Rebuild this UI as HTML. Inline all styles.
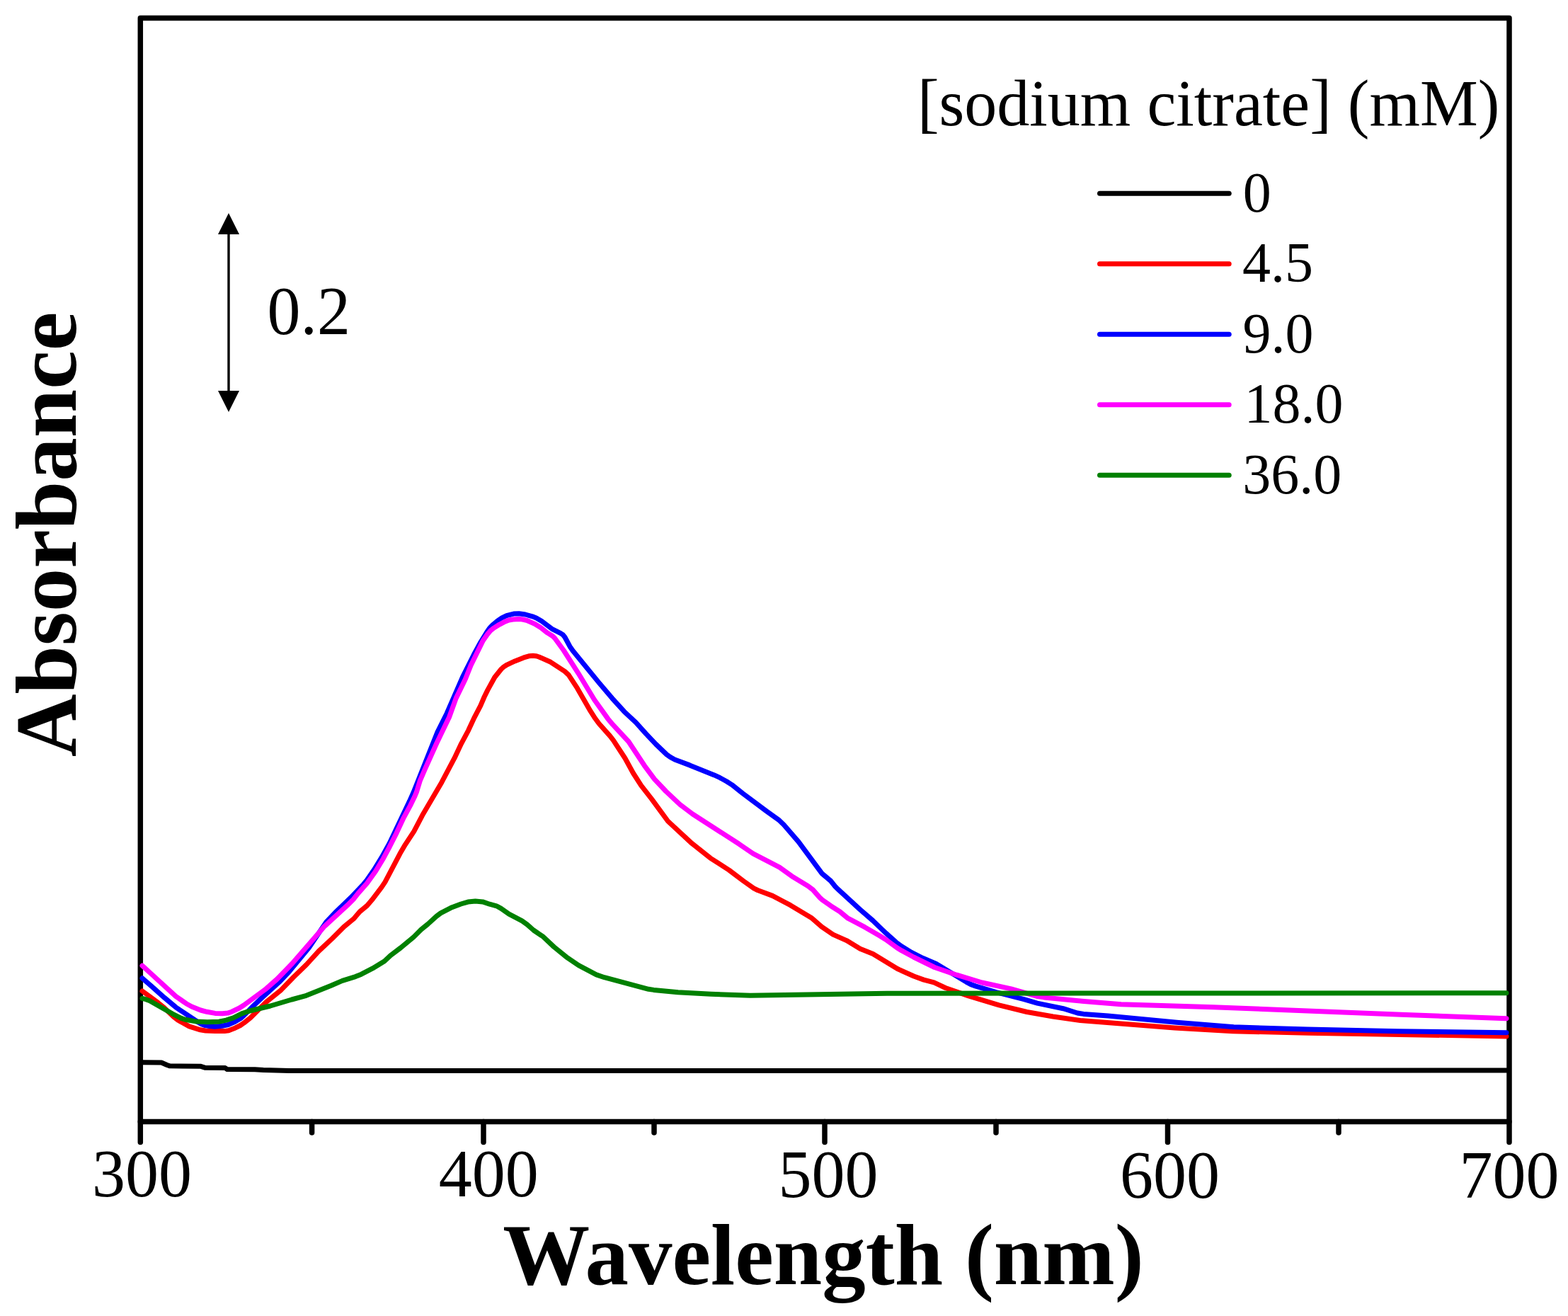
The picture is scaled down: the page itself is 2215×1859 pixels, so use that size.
<!DOCTYPE html>
<html><head><meta charset="utf-8"><title>Absorbance vs Wavelength</title>
<style>
html,body{margin:0;padding:0;background:#fff;}
body{width:2215px;height:1859px;overflow:hidden;}
svg{display:block;}
text{font-family:"Liberation Serif","Times New Roman",serif;fill:#000;}
.tk{font-size:94px;}
.lg{font-size:80px;}
.ttl{font-size:92px;}
.ax{font-size:123px;font-weight:bold;}
</style></head>
<body>
<svg width="2215" height="1859" viewBox="0 0 2215 1859">
<rect width="2215" height="1859" fill="#fff"/>
<rect x="198.3" y="25.5" width="1933.7" height="1558.9" fill="none" stroke="#000" stroke-width="7.5" stroke-linejoin="round"/>
<line x1="198.3" y1="1584.4" x2="198.3" y2="1613.5" stroke="#000" stroke-width="7.5" stroke-linecap="round"/>
<line x1="683" y1="1584.4" x2="683" y2="1613.5" stroke="#000" stroke-width="7.5" stroke-linecap="round"/>
<line x1="1165" y1="1584.4" x2="1165" y2="1613.5" stroke="#000" stroke-width="7.5" stroke-linecap="round"/>
<line x1="1649.5" y1="1584.4" x2="1649.5" y2="1613.5" stroke="#000" stroke-width="7.5" stroke-linecap="round"/>
<line x1="2132" y1="1584.4" x2="2132" y2="1613.5" stroke="#000" stroke-width="7.5" stroke-linecap="round"/>
<line x1="440.6" y1="1584.4" x2="440.6" y2="1600" stroke="#000" stroke-width="7.5" stroke-linecap="round"/>
<line x1="924" y1="1584.4" x2="924" y2="1600" stroke="#000" stroke-width="7.5" stroke-linecap="round"/>
<line x1="1407" y1="1584.4" x2="1407" y2="1600" stroke="#000" stroke-width="7.5" stroke-linecap="round"/>
<line x1="1891" y1="1584.4" x2="1891" y2="1600" stroke="#000" stroke-width="7.5" stroke-linecap="round"/>

<polyline points="201.0,1500.8 228.0,1501.0 236.0,1504.5 240.0,1505.8 283.0,1506.2 290.0,1508.3 318.0,1508.5 321.0,1510.6 360.0,1510.8 372.0,1511.6 408.0,1512.6 1580.0,1512.5 2128.0,1512.0" fill="none" stroke="#000" stroke-width="7" stroke-linejoin="round" stroke-linecap="round"/>
<polyline points="201.0,1400.0 212.7,1408.5 223.5,1416.6 231.6,1423.2 245.7,1436.7 251.6,1441.3 267.3,1449.9 283.0,1454.8 290.4,1456.0 303.8,1456.6 317.3,1456.6 323.1,1455.8 330.1,1453.1 339.5,1448.5 344.4,1445.2 353.8,1437.7 376.0,1415.5 395.9,1399.6 414.7,1380.2 433.0,1362.5 450.2,1343.6 468.8,1326.2 485.8,1309.3 499.6,1297.9 508.3,1287.7 518.6,1279.2 525.4,1271.3 539.0,1253.4 544.0,1245.9 564.9,1206.1 572.5,1193.1 584.8,1174.3 596.6,1151.8 623.9,1105.2 642.1,1070.7 651.7,1050.3 661.6,1031.8 669.8,1014.1 678.8,996.9 684.1,984.5 688.7,975.1 698.8,956.7 708.2,945.0 711.4,942.1 715.1,939.7 727.3,933.9 739.9,928.9 747.0,926.8 752.9,926.2 757.2,926.7 761.5,928.0 777.9,935.3 797.8,948.4 803.2,953.4 815.5,972.2 834.2,1004.7 840.7,1014.8 846.0,1022.0 861.9,1039.9 866.5,1045.8 882.9,1071.0 894.4,1092.0 905.7,1109.7 920.5,1128.6 943.5,1160.0 977.6,1191.6 1003.4,1212.1 1029.9,1229.1 1050.2,1244.5 1064.9,1254.9 1070.2,1257.5 1091.3,1265.4 1116.5,1278.7 1146.1,1296.4 1160.7,1309.2 1176.8,1320.1 1195.9,1328.6 1215.1,1340.2 1233.2,1347.4 1267.7,1368.5 1290.9,1379.0 1305.0,1384.1 1319.4,1387.9 1335.6,1395.5 1368.2,1406.9 1411.2,1419.9 1450.6,1429.5 1487.5,1436.0 1526.1,1441.5 1659.2,1451.9 1741.6,1456.8 1848.0,1459.2 2128.0,1464.0" fill="none" stroke="#ff0000" stroke-width="7" stroke-linejoin="round" stroke-linecap="round"/>
<polyline points="201.0,1381.8 214.3,1393.3 232.2,1409.3 248.3,1422.8 280.7,1444.5 284.5,1446.7 288.6,1448.2 295.9,1449.6 303.3,1450.3 313.7,1449.3 322.4,1447.5 332.0,1443.2 339.7,1438.8 344.2,1434.9 357.8,1421.0 369.8,1409.6 394.3,1387.5 408.7,1372.3 436.4,1338.7 460.7,1302.7 475.2,1287.5 495.7,1267.8 513.3,1249.3 518.1,1243.6 528.3,1228.8 539.3,1210.9 550.2,1191.2 578.6,1131.6 584.1,1119.3 617.9,1034.3 631.3,1007.5 653.4,956.6 669.5,924.5 678.9,907.3 687.5,893.3 691.7,887.1 695.8,882.9 702.7,877.1 708.9,872.9 715.6,869.7 725.7,867.1 733.1,866.7 742.0,868.0 752.1,870.8 757.6,872.9 765.3,877.5 779.6,888.3 791.6,894.3 795.2,896.7 797.9,900.0 805.0,913.2 809.2,919.3 846.3,964.6 864.7,986.3 881.8,1005.2 898.2,1020.5 912.2,1036.2 926.6,1051.4 941.8,1065.9 946.7,1069.4 953.2,1073.0 974.2,1080.9 1009.0,1094.9 1017.1,1098.7 1026.3,1103.8 1033.9,1108.6 1049.2,1120.7 1082.8,1145.9 1099.9,1158.1 1107.4,1165.3 1128.0,1189.1 1160.9,1233.7 1173.4,1244.2 1179.8,1252.2 1182.9,1255.4 1215.0,1284.8 1233.1,1300.5 1251.5,1318.2 1266.0,1331.2 1273.2,1336.5 1287.2,1345.2 1303.3,1353.3 1322.5,1361.5 1364.9,1387.1 1371.5,1390.6 1378.5,1393.1 1407.3,1401.7 1446.5,1411.7 1465.2,1417.1 1501.9,1424.7 1521.9,1431.0 1530.7,1432.4 1565.1,1435.1 1662.2,1444.2 1742.9,1450.8 1846.4,1454.0 1973.9,1456.7 2128.0,1458.7" fill="none" stroke="#0000ff" stroke-width="7" stroke-linejoin="round" stroke-linecap="round"/>
<polyline points="201.0,1364.1 214.0,1376.0 248.3,1407.4 263.1,1417.7 270.9,1422.0 283.4,1427.0 292.1,1429.3 303.9,1431.4 314.3,1431.7 321.7,1431.1 327.3,1429.2 338.1,1424.0 344.4,1420.0 374.6,1397.8 391.5,1383.0 412.4,1361.5 458.6,1308.3 490.6,1278.9 499.1,1270.5 505.5,1262.4 518.4,1247.8 530.6,1230.7 541.5,1212.7 549.3,1198.2 560.1,1176.8 569.6,1156.4 579.6,1137.9 585.5,1125.8 588.4,1118.9 593.2,1103.2 600.3,1086.6 616.9,1049.7 634.5,1013.2 644.2,986.4 657.3,959.5 665.1,940.0 682.3,905.0 688.2,896.4 693.0,890.8 697.7,887.1 705.3,882.3 711.9,878.8 718.8,876.1 724.7,875.0 733.6,874.6 738.1,875.0 743.9,876.3 754.8,881.1 763.8,886.5 773.2,893.9 780.6,898.5 783.7,901.5 796.1,918.5 817.1,951.3 839.6,988.5 858.8,1015.4 865.5,1023.4 887.9,1047.5 910.2,1081.3 924.5,1100.6 940.9,1118.0 960.6,1136.5 978.5,1150.0 1044.1,1192.3 1063.9,1205.8 1101.1,1225.1 1120.6,1239.1 1141.2,1251.5 1148.3,1256.9 1158.2,1268.1 1161.5,1271.1 1173.7,1279.7 1186.4,1287.7 1197.8,1297.2 1221.6,1309.7 1242.4,1321.7 1251.3,1327.3 1267.0,1338.8 1273.4,1342.7 1290.6,1352.0 1320.2,1366.5 1351.4,1377.2 1387.3,1388.0 1428.3,1396.8 1465.8,1407.6 1474.6,1408.9 1528.4,1414.2 1583.7,1418.8 1714.1,1422.7 1979.4,1433.3 2128.0,1438.7" fill="none" stroke="#ff00ff" stroke-width="7" stroke-linejoin="round" stroke-linecap="round"/>
<polyline points="201.0,1410.4 206.0,1411.7 211.5,1413.7 244.0,1432.3 256.0,1438.4 261.6,1440.3 276.4,1442.9 292.8,1443.8 309.3,1443.2 319.5,1441.1 329.5,1437.9 341.4,1431.9 352.8,1428.0 381.9,1421.0 412.1,1412.0 430.9,1406.9 467.1,1392.5 483.6,1385.4 502.2,1379.6 510.5,1376.2 526.4,1367.9 543.1,1357.8 551.6,1349.7 566.0,1338.9 584.4,1323.6 595.0,1313.0 604.3,1305.5 616.5,1294.4 622.5,1289.9 638.5,1281.7 651.1,1277.0 661.1,1274.1 671.5,1273.0 681.9,1273.9 691.6,1277.2 701.4,1279.8 707.9,1283.4 718.9,1291.1 737.5,1300.9 744.8,1306.1 753.7,1314.0 767.3,1323.2 782.6,1337.6 800.0,1351.8 817.3,1363.6 842.4,1376.9 853.7,1380.7 916.1,1397.3 923.5,1398.4 957.8,1401.8 1004.2,1404.3 1059.7,1406.3 1253.1,1403.2 2128.0,1402.8" fill="none" stroke="#008000" stroke-width="7" stroke-linejoin="round" stroke-linecap="round"/>

<text transform="translate(129.9,1690.1) scale(1,1.012)" class="tk">300</text>
<text transform="translate(619.8,1690.4) scale(1,1.012)" class="tk">400</text>
<text transform="translate(1099.5,1690.6) scale(1,1.012)" class="tk">500</text>
<text transform="translate(1582.1,1691.6) scale(1,1.012)" class="tk">600</text>
<text transform="translate(2061.5,1692.1) scale(1,1.012)" class="tk">700</text>

<text transform="translate(1295.9,176.7) scale(1,1.02)" class="ttl">[sodium citrate] (mM)</text>
<line x1="1553.5" y1="273.2" x2="1736.2" y2="273.2" stroke="#000" stroke-width="7" stroke-linecap="round"/>
<text x="1755.7" y="298.8" class="lg">0</text>
<line x1="1553.5" y1="372.7" x2="1736.2" y2="372.7" stroke="#ff0000" stroke-width="7" stroke-linecap="round"/>
<text x="1755" y="398.3" class="lg">4.5</text>
<line x1="1553.5" y1="472.2" x2="1736.2" y2="472.2" stroke="#0000ff" stroke-width="7" stroke-linecap="round"/>
<text x="1755.4" y="497.8" class="lg">9.0</text>
<line x1="1553.5" y1="571.7" x2="1736.2" y2="571.7" stroke="#ff00ff" stroke-width="7" stroke-linecap="round"/>
<text x="1757.5" y="597.3" class="lg">18.0</text>
<line x1="1553.5" y1="671.2" x2="1736.2" y2="671.2" stroke="#008000" stroke-width="7" stroke-linecap="round"/>
<text x="1755.2" y="696.8" class="lg">36.0</text>

<line x1="323" y1="325" x2="323" y2="558" stroke="#000" stroke-width="3.4"/>
<polygon points="323,301 308,331 338,331" fill="#000"/>
<polygon points="323,582 308,552 338,552" fill="#000"/>
<text transform="translate(377.5,472) scale(1,1.035)" class="tk">0.2</text>
<text x="1163" y="1814" text-anchor="middle" class="ax">Wavelength (nm)</text>
<text transform="translate(107,755) rotate(-90)" text-anchor="middle" class="ax">Absorbance</text>
</svg>
</body></html>
